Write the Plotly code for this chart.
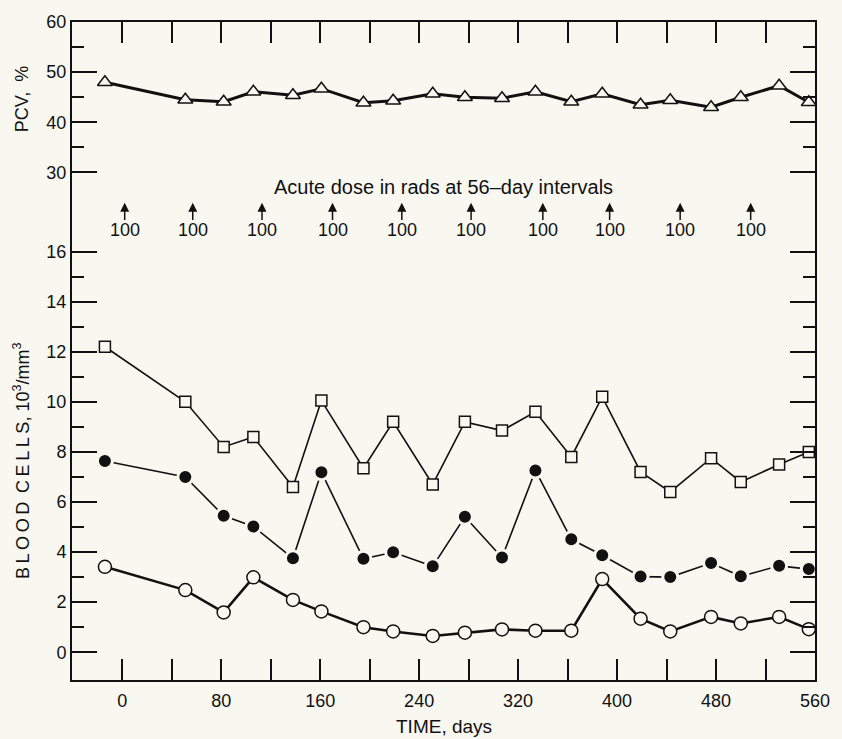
import plotly.graph_objects as go

# ---- data ----
days = [-14, 51, 82, 106, 138, 161, 195, 219, 251, 277, 307, 334, 363, 388, 419, 443, 476, 500, 531, 555]
pcv = [48.0, 44.5, 44.1, 46.1, 45.4, 46.7, 43.9, 44.3, 45.7, 45.0, 44.8, 46.1, 44.1, 45.7, 43.5, 44.4, 43.0, 45.0, 47.3, 44.0]
squares = [12.2, 10.0, 8.2, 8.6, 6.6, 10.05, 7.35, 9.2, 6.7, 9.2, 8.85, 9.6, 7.8, 10.2, 7.2, 6.4, 7.75, 6.8, 7.5, 8.0]
filled = [7.64, 7.0, 5.45, 5.02, 3.75, 7.19, 3.73, 3.99, 3.43, 5.41, 3.78, 7.26, 4.51, 3.87, 3.02, 3.0, 3.56, 3.03, 3.45, 3.32]
open_c = [3.41, 2.48, 1.59, 2.99, 2.09, 1.63, 1.0, 0.83, 0.65, 0.78, 0.91, 0.86, 0.86, 2.92, 1.34, 0.83, 1.41, 1.15, 1.41, 0.92]
dose_days = [2, 57, 113, 170, 226, 282, 340, 394, 451, 508]
dose_labels = ["100", "100", "100", "100", "100", "100", "100", "100", "100", "100"]

x_ticks = [0, 40, 80, 120, 160, 200, 240, 280, 320, 360, 400, 440, 480, 520, 560]
x_ticktext = ["0", "", "80", "", "160", "", "240", "", "320", "", "400", "", "480", "", "560"]
blood_ticks = [0, 2, 4, 6, 8, 10, 12, 14, 16]
blood_minor = [1, 3, 5, 7, 9, 11, 13, 15]
pcv_ticks = [30, 40, 50, 60]
pcv_minor = [35, 45, 55]

BG = "#f8f8f1"
INK = "#111111"
FONT = "Liberation Sans, Arial, sans-serif"

fig = go.Figure()

fig.add_trace(go.Scatter(
    x=days, y=pcv, yaxis="y2", mode="lines+markers",
    line=dict(color=INK, width=3),
    marker=dict(symbol="triangle-up", size=13, color=BG, line=dict(color=INK, width=1.5)),
    showlegend=False, cliponaxis=False))

fig.add_trace(go.Scatter(
    x=days, y=squares, mode="lines+markers",
    line=dict(color=INK, width=1.6),
    marker=dict(symbol="square", size=11, color=BG, line=dict(color=INK, width=1.5)),
    showlegend=False, cliponaxis=False))

fig.add_trace(go.Scatter(
    x=days, y=filled, mode="lines+markers",
    line=dict(color=INK, width=1.6),
    marker=dict(symbol="circle", size=15, color=INK, line=dict(color=BG, width=3)),
    showlegend=False, cliponaxis=False))

fig.add_trace(go.Scatter(
    x=days, y=open_c, mode="lines+markers",
    line=dict(color=INK, width=2.6),
    marker=dict(symbol="circle", size=13, color=BG, line=dict(color=INK, width=1.5)),
    showlegend=False, cliponaxis=False))

annotations = []
for d, lab in zip(dose_days, dose_labels):
    annotations.append(dict(x=d, y=17.95, ax=d, ay=17.2, xref="x", yref="y", axref="x", ayref="y",
                            showarrow=True, arrowhead=2, arrowsize=1.2, arrowwidth=1.5,
                            arrowcolor=INK, text=""))
    annotations.append(dict(x=d, y=16.85, xref="x", yref="y", text=lab, showarrow=False,
                            xanchor="center", yanchor="middle",
                            font=dict(family=FONT, size=18, color=INK)))

annotations.append(dict(x=260, y=18.6, xref="x", yref="y", showarrow=False,
                        xanchor="center", yanchor="middle",
                        text="Acute dose in rads at 56\u2013day intervals",
                        font=dict(family=FONT, size=20, color=INK)))
annotations.append(dict(x=0.5, y=-0.07, xref="paper", yref="paper", showarrow=False,
                        xanchor="center", yanchor="middle",
                        text="TIME, days", font=dict(family=FONT, size=19, color=INK)))
annotations.append(dict(x=-0.067, y=0.883, xref="paper", yref="paper", showarrow=False,
                        xanchor="center", yanchor="middle",
                        text="PCV,\u00a0\u00a0%", textangle=-90,
                        font=dict(family=FONT, size=18, color=INK)))
annotations.append(dict(x=-0.067, y=0.333, xref="paper", yref="paper", showarrow=False,
                        xanchor="center", yanchor="middle",
                        text="B\u2009L\u2009O\u2009O\u2009D\u2009 C\u2009E\u2009L\u2009L\u2009S, 10<sup>3</sup>/mm<sup>3</sup>",
                        textangle=-90,
                        font=dict(family=FONT, size=18, color=INK)))

axis_common = dict(showgrid=False, zeroline=False, showline=True, linecolor=INK, linewidth=2,
                   ticks="inside", tickcolor=INK, tickwidth=1.5, mirror="ticks",
                   tickfont=dict(family=FONT, size=18, color=INK))

fig.update_layout(
    width=842, height=739,
    margin=dict(l=72, r=20, t=15, b=59),
    paper_bgcolor=BG, plot_bgcolor=BG,
    xaxis=dict(range=[-40.6, 560], tickmode="array", tickvals=x_ticks, ticktext=x_ticktext,
               ticklen=21, ticklabelstandoff=3, **axis_common),
    yaxis=dict(range=[-1.11, 25.17], tickmode="array", tickvals=blood_ticks, ticklen=25,
               minor=dict(tickmode="array", tickvals=blood_minor, ticklen=12, ticks="inside",
                          tickcolor=INK, tickwidth=1.5),
               **axis_common),
    yaxis2=dict(range=[-71.2, 60], overlaying="y", side="left", tickmode="array", tickvals=pcv_ticks,
                ticklen=25,
                minor=dict(tickmode="array", tickvals=pcv_minor, ticklen=12, ticks="inside",
                           tickcolor=INK, tickwidth=1.5),
                **axis_common),
    annotations=annotations,
)

fig.write_html("out.html", config={"displayModeBar": False},
               post_script="document.body.style.margin='0';")
